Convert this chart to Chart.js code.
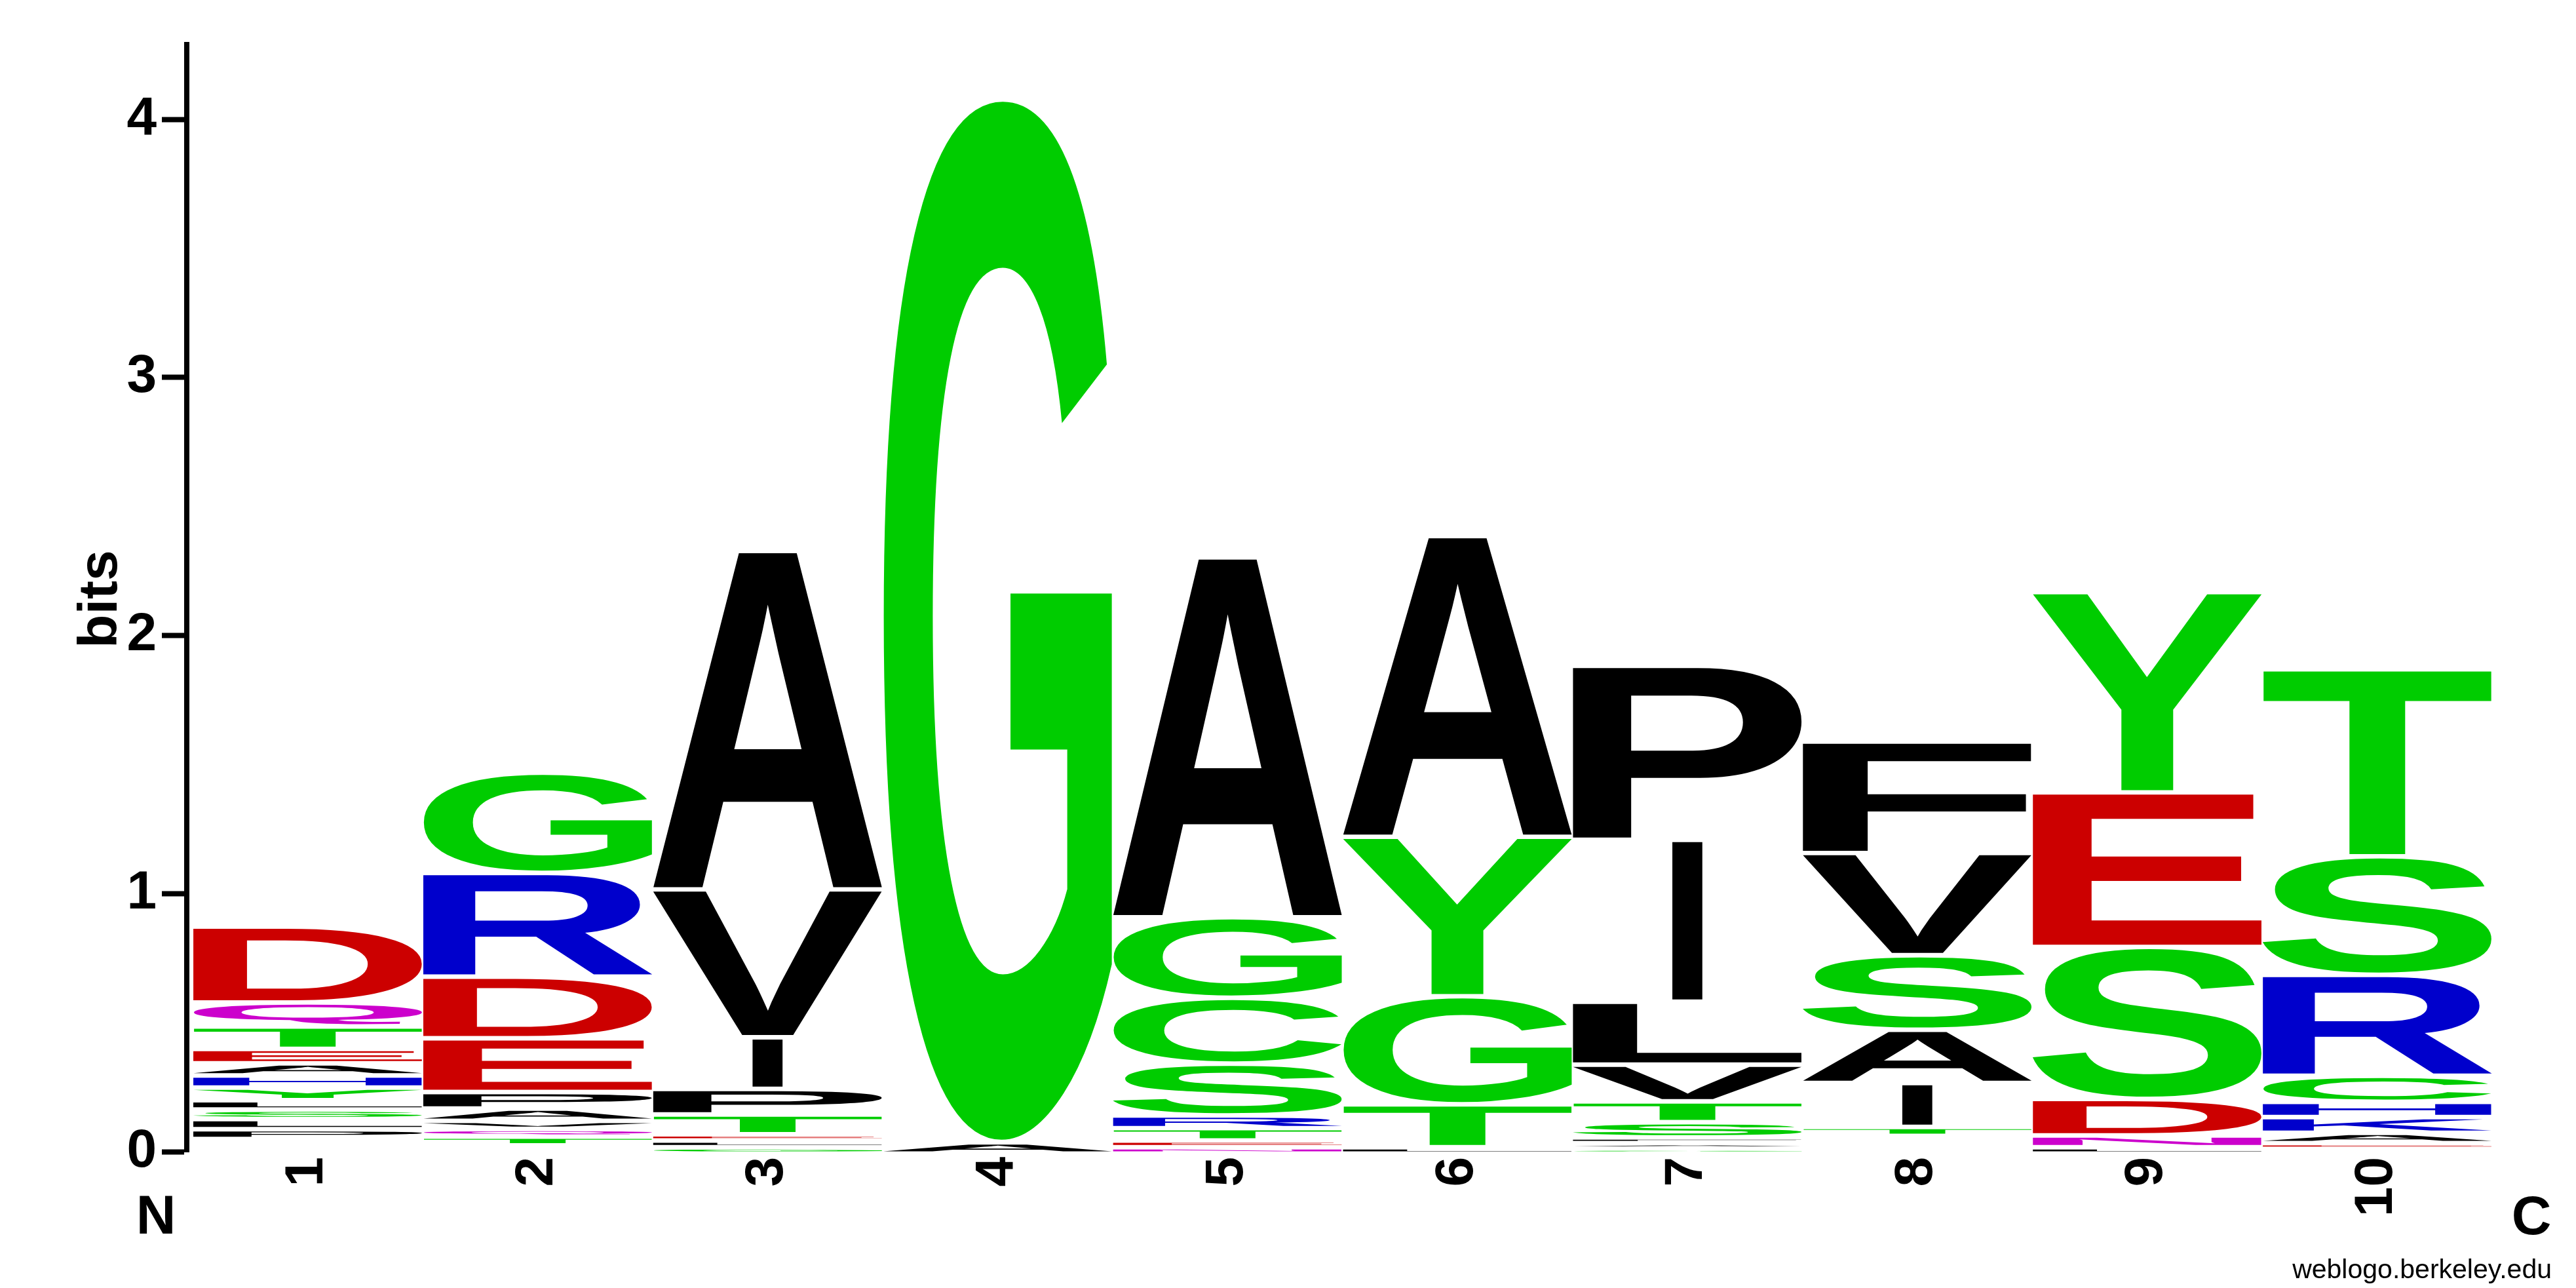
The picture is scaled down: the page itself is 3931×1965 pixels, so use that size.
<!DOCTYPE html>
<html>
<head>
<meta charset="utf-8">
<script src="https://cdn.jsdelivr.net/npm/chart.js@4.4.1/dist/chart.umd.min.js"></script>
<style>
  html, body { margin: 0; padding: 0; background: #fff; }
  #wrap { width: 3931px; height: 1965px; }
</style>
</head>
<body>
<div id="wrap"><canvas id="logo"></canvas></div>
<script>
// sequence positions (x axis)
const positions = ['1', '2', '3', '4', '5', '6', '7', '8', '9', '10'];

// letters of each stack, bottom to top, with their heights in bits
const pos1Letters = ['M', 'W', 'C', 'K', 'P', 'L', 'S', 'L', 'Y', 'H', 'A', 'E', 'T', 'Q', 'D'];
const pos1Bits = [0.0145, 0.0145, 0.0145, 0.0145, 0.038, 0.039, 0.037, 0.036, 0.049, 0.047, 0.047, 0.056, 0.087, 0.093, 0.294];

const pos2Letters = ['C', 'W', 'T', 'Q', 'V', 'A', 'P', 'E', 'D', 'R', 'G'];
const pos2Bits = [0.016, 0.017, 0.034, 0.030, 0.031, 0.048, 0.064, 0.208, 0.239, 0.402, 0.388];

const pos3Letters = ['G', 'L', 'E', 'T', 'P', 'I', 'V', 'A'];
const pos3Bits = [0.026, 0.026, 0.024, 0.077, 0.099, 0.200, 0.573, 1.311];

const pos4Letters = ['A', 'G'];
const pos4Bits = [0.045, 4.037];

const pos5Letters = ['N', 'E', 'T', 'R', 'S', 'C', 'G', 'A'];
const pos5Bits = [0.026, 0.026, 0.048, 0.049, 0.201, 0.255, 0.312, 1.394];

const pos6Letters = ['L', 'T', 'G', 'Y', 'A'];
const pos6Bits = [0.026, 0.166, 0.419, 0.618, 1.165];

const pos7Letters = ['G', 'A', 'F', 'S', 'T', 'V', 'L', 'I', 'P'];
const pos7Bits = [0.021, 0.021, 0.022, 0.059, 0.081, 0.142, 0.244, 0.627, 0.674];

const pos8Letters = ['C', 'G', 'L', 'M', 'T', 'I', 'A', 'S', 'V', 'F'];
const pos8Bits = [0.017, 0.017, 0.018, 0.018, 0.035, 0.170, 0.206, 0.289, 0.396, 0.432];

const pos9Letters = ['L', 'N', 'D', 'S', 'E', 'Y'];
const pos9Bits = [0.026, 0.046, 0.141, 0.589, 0.599, 0.776];

const pos10Letters = ['N', 'E', 'A', 'K', 'H', 'C', 'R', 'S', 'T'];
const pos10Bits = [0.020, 0.022, 0.040, 0.061, 0.059, 0.101, 0.391, 0.459, 0.725];

const yTicks = [0, 1, 2, 3, 4];

const stackLetters = [pos1Letters, pos2Letters, pos3Letters, pos4Letters, pos5Letters,
  pos6Letters, pos7Letters, pos8Letters, pos9Letters, pos10Letters];
const stackBits = [pos1Bits, pos2Bits, pos3Bits, pos4Bits, pos5Bits,
  pos6Bits, pos7Bits, pos8Bits, pos9Bits, pos10Bits];

const GREEN = '#00cc00', RED = '#cc0000', BLUE = '#0000cc', MAGENTA = '#cc00cc', BLACK = '#000000';
function letterColor(l) {
  if ('GSTYC'.includes(l)) return GREEN;
  if ('NQ'.includes(l)) return MAGENTA;
  if ('KRH'.includes(l)) return BLUE;
  if ('DE'.includes(l)) return RED;
  return BLACK;
}

// one dataset per layer of the stacks (layer 0 = bottom letter of every stack)
const layers = Math.max(...stackLetters.map(a => a.length));
const datasets = [];
for (let r = 0; r < layers; r++) {
  datasets.push({
    data: positions.map((p, i) => ({ x: i + 1, y: stackBits[i][r] || 0 })),
    letters: positions.map((p, i) => stackLetters[i][r] || ''),
    backgroundColor: 'rgba(0,0,0,0)',
    borderWidth: 0,
    categoryPercentage: 1,
    barPercentage: 0.992
  });
}

const FONT = '"Liberation Sans", Arial, Helvetica, sans-serif';
const GAP_PX = 7;
const GLYPH_PX = 400;

// ink box of a glyph, found by scanning a rendered copy
const inkCache = {};
function inkBox(letter) {
  if (inkCache[letter]) return inkCache[letter];
  const size = GLYPH_PX * 2;
  const c = document.createElement('canvas');
  c.width = size; c.height = size;
  const g = c.getContext('2d');
  g.font = 'bold ' + GLYPH_PX + 'px ' + FONT;
  g.textBaseline = 'alphabetic';
  g.fillStyle = '#000';
  const ox = GLYPH_PX / 2, oy = GLYPH_PX * 1.3;
  g.fillText(letter, ox, oy);
  const px = g.getImageData(0, 0, size, size).data;
  let x0 = size, x1 = -1, y0 = size, y1 = -1;
  for (let y = 0; y < size; y++) {
    for (let x = 0; x < size; x++) {
      if (px[(y * size + x) * 4 + 3] > 127) {
        if (x < x0) x0 = x;
        if (x > x1) x1 = x;
        if (y < y0) y0 = y;
        if (y > y1) y1 = y;
      }
    }
  }
  const box = { left: x0 - ox, top: y0 - oy, w: x1 - x0 + 1, h: y1 - y0 + 1 };
  inkCache[letter] = box;
  return box;
}

function drawGlyph(ctx, letter, x, y, w, h, color) {
  const b = inkBox(letter);
  // the I keeps a narrow stem, like in weblogo
  if (letter === 'I') {
    const nw = w * 0.13;
    x += (w - nw) / 2;
    w = nw;
  }
  ctx.save();
  ctx.font = 'bold ' + GLYPH_PX + 'px ' + FONT;
  ctx.textAlign = 'left';
  ctx.textBaseline = 'alphabetic';
  ctx.fillStyle = color;
  ctx.translate(x, y);
  ctx.scale(w / b.w, h / b.h);
  ctx.fillText(letter, -b.left, -b.top);
  ctx.restore();
}

const letterPlugin = {
  id: 'letters',
  afterDatasetsDraw(chart) {
    const ctx = chart.ctx;
    chart.data.datasets.forEach((ds, di) => {
      chart.getDatasetMeta(di).data.forEach((bar, i) => {
        const letter = ds.letters[i];
        if (!letter) return;
        const p = bar.getProps(['x', 'y', 'base', 'width'], true);
        const top = Math.min(p.y, p.base) + GAP_PX;
        const bottom = Math.max(p.y, p.base);
        if (bottom - top < 0.5) return;
        drawGlyph(ctx, letter, p.x - p.width / 2, top, p.width, bottom - top, letterColor(letter));
      });
    });
  }
};

const textPlugin = {
  id: 'texts',
  afterDraw(chart) {
    const ctx = chart.ctx;
    ctx.save();
    ctx.fillStyle = '#000';
    ctx.textBaseline = 'alphabetic';
    // y axis title
    ctx.save();
    ctx.font = 'bold 84px ' + FONT;
    ctx.translate(178, 914);
    ctx.rotate(-Math.PI / 2);
    ctx.textAlign = 'center';
    ctx.fillText('bits', 0, 0);
    ctx.restore();
    // terminus labels
    ctx.font = 'bold 84px ' + FONT;
    ctx.textAlign = 'center';
    ctx.fillText('N', 238, 1882);
    ctx.fillText('C', 3863, 1883);
    // footer
    ctx.font = '41px ' + FONT;
    ctx.textAlign = 'right';
    ctx.fillText('weblogo.berkeley.edu', 3894, 1950);
    ctx.restore();
  }
};

new Chart(document.getElementById('logo'), {
  type: 'bar',
  data: { datasets: datasets },
  options: {
    responsive: true,
    maintainAspectRatio: false,
    devicePixelRatio: 1,
    animation: false,
    events: [],
    layout: { padding: { top: 68, right: 128, bottom: 0, left: 0 } },
    plugins: {
      legend: { display: false },
      tooltip: { enabled: false },
      title: { display: false }
    },
    scales: {
      x: {
        type: 'linear',
        stacked: true,
        offset: false,
        min: 0.5 - 9 / 351,
        max: 10.5,
        grid: { display: false, drawTicks: false },
        border: { display: false },
        ticks: {
          autoSkip: false,
          minRotation: 90,
          maxRotation: 90,
          padding: 8,
          color: '#000',
          font: { family: FONT, size: 82, weight: 'bold' },
          callback: v => positions[v - 1]
        },
        afterBuildTicks: s => { s.ticks = positions.map((p, i) => ({ value: i + 1 })); },
        afterFit: s => { s.height = 208; }
      },
      y: {
        type: 'linear',
        stacked: true,
        min: 0,
        max: 4.29,
        grid: {
          display: true,
          drawOnChartArea: false,
          drawTicks: true,
          tickLength: 38,
          tickWidth: 8,
          tickColor: '#000'
        },
        border: { display: true, width: 8, color: '#000' },
        ticks: {
          padding: 8,
          color: '#000',
          font: { family: FONT, size: 82, weight: 'bold' }
        },
        afterBuildTicks: s => { s.ticks = yTicks.map(v => ({ value: v })); },
        afterFit: s => { s.width = 285; }
      }
    }
  },
  plugins: [letterPlugin, textPlugin]
});
</script>
</body>
</html>
